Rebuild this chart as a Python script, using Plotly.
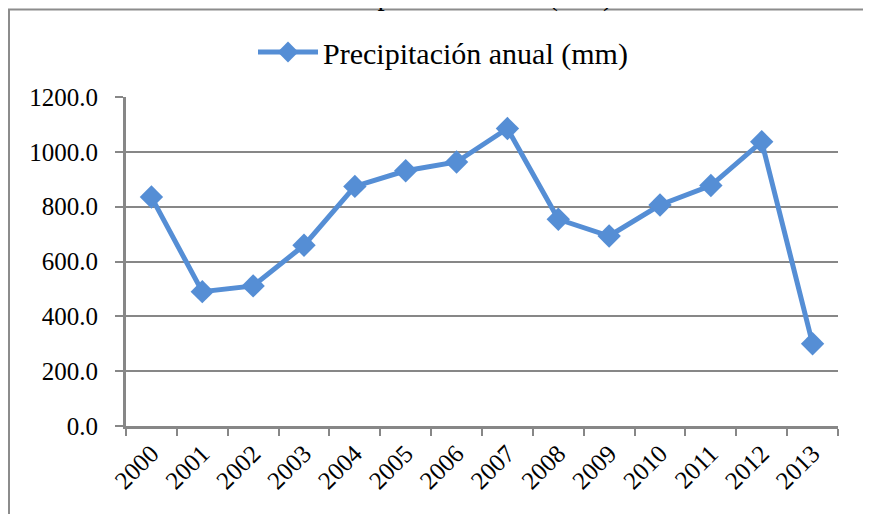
import plotly.graph_objects as go

years = ["2000", "2001", "2002", "2003", "2004", "2005", "2006",
         "2007", "2008", "2009", "2010", "2011", "2012", "2013"]
precip = [835, 490, 511, 659, 874, 931, 963, 1085, 754, 693, 806, 877, 1037, 300]
series_name = "Precipitación anual (mm)"
title_text = "Precipitación anual (mm)"

blue = "#558ED5"
grid = "#878787"
font_family = "Liberation Serif"

W, H = 863, 506
L, T, PW, PH = 118, 89, 712, 329

fig = go.Figure()
fig.add_trace(go.Scatter(
    x=years, y=precip, name=series_name, mode="lines+markers",
    line=dict(color=blue, width=5),
    marker=dict(symbol="diamond", size=18, color=blue),
))

fig.update_layout(
    width=W, height=H,
    margin=dict(l=L, r=W - L - PW, t=T, b=H - T - PH, autoexpand=False),
    paper_bgcolor="white", plot_bgcolor="white",
    font=dict(family=font_family, size=25, color="black"),
    showlegend=True,
    legend=dict(orientation="h", x=(435 - L) / PW, xanchor="center",
                y=1 + (T - 44) / PH, yanchor="middle",
                font=dict(size=30, family=font_family), itemwidth=60,
                bgcolor="rgba(0,0,0,0)"),
    xaxis=dict(type="category", range=[-0.5, len(years) - 0.5],
               tickson="boundaries", ticks="outside", ticklen=7,
               tickwidth=2, tickcolor=grid, showline=True, linecolor=grid, linewidth=3,
               showgrid=False, tickangle=-45, automargin=False,
               tickfont=dict(size=25, family=font_family)),
    yaxis=dict(range=[0, 1200], dtick=200, tickformat=".1f", ticks="outside", ticklen=8,
               tickwidth=2, tickcolor=grid, showline=True, linecolor=grid, linewidth=3,
               gridcolor=grid, gridwidth=2, zeroline=False, automargin=False,
               ticklabelstandoff=12,
               tickfont=dict(size=25, family=font_family)),
)

# chart border (Excel chart area)
fig.add_shape(type="rect", xref="paper", yref="paper",
              x0=(-L + 1) / PW, x1=(858 - L) / PW,
              y0=-200 / PH, y1=(T + PH - 1.5) / PH,
              line=dict(color="#8C8C8C", width=2), fillcolor="rgba(0,0,0,0)", layer="below")

# title, mostly cut off at the top (as in the reference)
fig.add_annotation(text=title_text, xref="paper", yref="paper",
                   x=(457 - L) / PW, y=1 + (T + 12.5) / PH, xanchor="center", yanchor="middle",
                   showarrow=False, font=dict(size=29, family=font_family))

fig.write_html("out.html")
